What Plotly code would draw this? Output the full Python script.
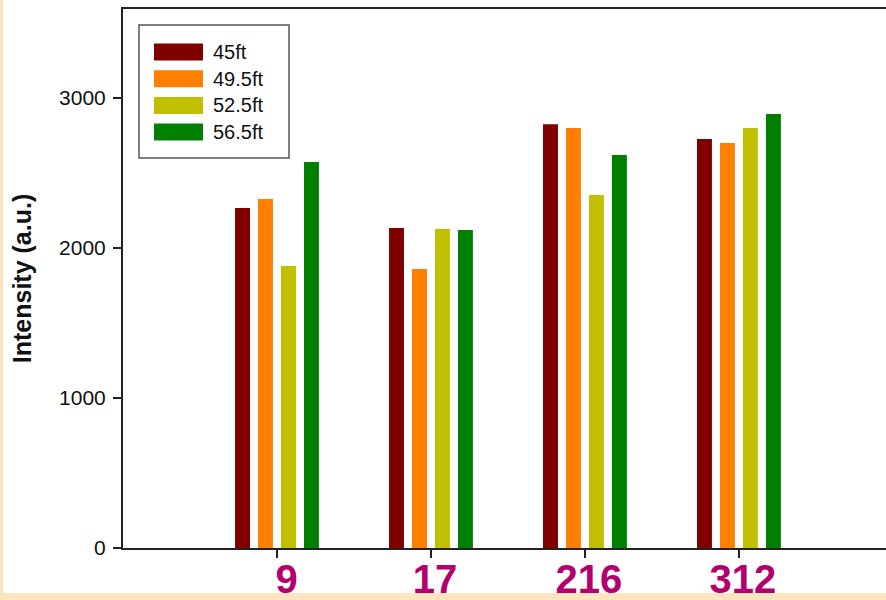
import plotly.graph_objects as go

# Sample depths (x categories) and intensity per layer height
samples = ["9", "17", "216", "312"]
series_names = ["45ft", "49.5ft", "52.5ft", "56.5ft"]
intensity_45 = [2267, 2133, 2824, 2727]
intensity_49_5 = [2327, 1860, 2800, 2700]
intensity_52_5 = [1880, 2127, 2353, 2800]
intensity_56_5 = [2573, 2120, 2620, 2893]
y_ticks = [0, 1000, 2000, 3000]

series_values = [intensity_45, intensity_49_5, intensity_52_5, intensity_56_5]
colors = ["#800000", "#FF8000", "#C0C000", "#008000"]

W, H = 886, 600
ML, MR, MT, MB = 123, 0, 9, 52
PW, PH = W - ML - MR, H - MT - MB


def px_x(px):
    return (px - ML) / PW


def px_y(py):
    return (H - MB - py) / PH


fig = go.Figure()
for name, vals, col in zip(series_names, series_values, colors):
    fig.add_trace(go.Bar(
        x=samples, y=vals, name=name,
        marker=dict(color=col, line=dict(width=0)),
        showlegend=False,
    ))

shapes = []
# cream frame strips along the left and bottom edges
cream = "#FEE5BF"
shapes.append(dict(type="rect", xref="paper", yref="paper", layer="below",
                   x0=px_x(-5), x1=px_x(3), y0=px_y(0), y1=px_y(H + 5),
                   fillcolor=cream, line=dict(width=0)))
shapes.append(dict(type="rect", xref="paper", yref="paper", layer="below",
                   x0=px_x(-5), x1=px_x(W + 5), y0=px_y(H + 5), y1=px_y(593),
                   fillcolor=cream, line=dict(width=0)))

# legend box with wide colour swatches
shapes.append(dict(type="rect", xref="paper", yref="paper",
                   x0=px_x(139), x1=px_x(289), y0=px_y(158), y1=px_y(25),
                   fillcolor="white", line=dict(color="#555555", width=1.5)))
annotations = []
row_top, row_pitch, sw_h = 43.5, 26.7, 17
for i, (name, col) in enumerate(zip(series_names, colors)):
    top = row_top + i * row_pitch
    shapes.append(dict(type="rect", xref="paper", yref="paper",
                       x0=px_x(154), x1=px_x(203), y0=px_y(top + sw_h), y1=px_y(top),
                       fillcolor=col, line=dict(width=0)))
    annotations.append(dict(xref="paper", yref="paper", x=px_x(211), y=px_y(top + sw_h / 2),
                            text=name, showarrow=False, xanchor="left", yanchor="middle",
                            font=dict(family="Arial, Liberation Sans, sans-serif", size=20, color="#111111")))

tick_text = ["\u00a0" + samples[0]] + samples[1:]

fig.update_layout(
    width=W, height=H,
    margin=dict(l=ML, r=MR, t=MT, b=MB, autoexpand=False),
    paper_bgcolor="white", plot_bgcolor="white",
    barmode="group", bargap=0.403, bargroupgap=0.35,
    font=dict(family="Arial, Liberation Sans, sans-serif", color="#111111"),
    shapes=shapes, annotations=annotations,
    xaxis=dict(
        type="category", range=[-1, 3.955],
        tickmode="array", tickvals=samples, ticktext=tick_text,
        ticks="outside", ticklen=8, tickwidth=2, tickcolor="#222222",
        tickfont=dict(size=40, color="#B4006E", family="Arial, Liberation Sans, sans-serif", weight="bold"),
        ticklabelshift=4, ticklabelstandoff=-13,
        showline=True, linecolor="#222222", linewidth=2, mirror=True,
        showgrid=False, zeroline=False, automargin=False,
    ),
    yaxis=dict(
        range=[0, 3593],
        tickmode="array", tickvals=y_ticks,
        ticks="outside", ticklen=8, tickwidth=1.5, tickcolor="#222222",
        tickfont=dict(size=21, color="#111111"), ticklabelstandoff=3,
        showline=True, linecolor="#222222", linewidth=2, mirror=False,
        showgrid=False, zeroline=False, automargin=False,
        title=dict(text="<b>Intensity (a.u.)</b>", font=dict(size=25, color="#111111"), standoff=20),
    ),
)

fig.write_html("out.html")
